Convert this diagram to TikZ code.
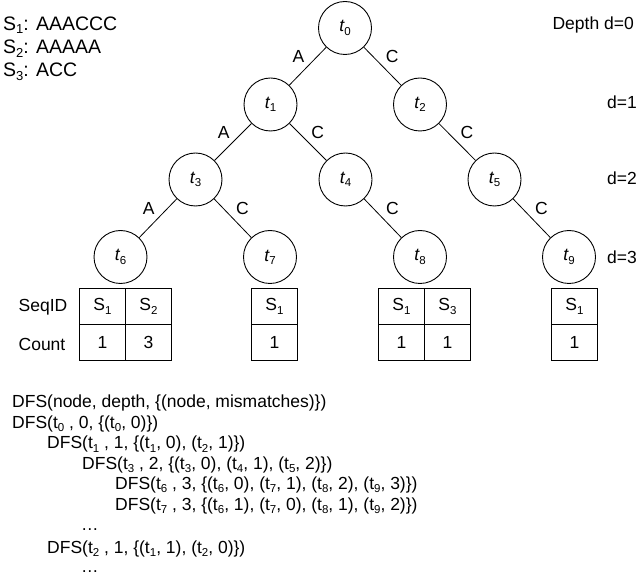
\documentclass[tikz,border=0pt]{standalone}
\usepackage{fontspec}
\setmainfont{Liberation Sans}
\newcommand\lo[1]{\raisebox{-0.35ex}{\fontsize{11.5}{12}\selectfont #1}}
\newcommand\seqsub[1]{\raisebox{-0.35ex}{\fontsize{13}{13}\selectfont #1}}
\newcommand\tl[1]{\textit{t}\kern-0.5pt\lo{#1}}
\begin{document}
\begin{tikzpicture}[x=1pt,y=-1pt,font=\fontsize{17.5}{21}\selectfont,
  tn/.style={circle, draw, line width=0.9pt, minimum size=53pt, inner sep=0pt},
  edg/.style={draw, line width=0.8pt},
  lblL/.style={midway, anchor=south east, inner sep=3pt},
  lblR/.style={midway, anchor=south west, inner sep=3pt},
  cell/.style={draw, line width=0.9pt, minimum width=46pt, minimum height=36pt, inner sep=0pt, anchor=north west},
  txt/.style={inner sep=0pt},
  seqtxt/.style={inner sep=0pt, anchor=west, font=\fontsize{19.5}{23}\selectfont},
  code/.style={inner sep=0pt, anchor=base west}]
\useasboundingbox (0,0) rectangle (643,577);

% sequences
\node[seqtxt] (s1) at (3,25) {S\seqsub{1}: AAACCC};
\node[seqtxt] (s2) at (3,48.5) {S\seqsub{2}: AAAAA};
\node[seqtxt] (s3) at (3,72) {S\seqsub{3}: ACC};

% depth labels
\node[txt, anchor=east] (d0) at (634,25) {Depth d=0};
\node[txt, anchor=east] (d1) at (637,102) {d=1};
\node[txt, anchor=east] (d2) at (637,178) {d=2};
\node[txt, anchor=east] (d3) at (637,257) {d=3};

% tree nodes
\node[tn] (t0) at (345,28) {\tl{0}};
\node[tn] (t1) at (270.5,104.5) {\tl{1}};
\node[tn] (t2) at (420,104.5) {\tl{2}};
\node[tn] (t3) at (195.5,179.5) {\tl{3}};
\node[tn] (t4) at (345.5,179.5) {\tl{4}};
\node[tn] (t5) at (494.5,179.5) {\tl{5}};
\node[tn] (t6) at (120.5,257) {\tl{6}};
\node[tn] (t7) at (270,257) {\tl{7}};
\node[tn] (t8) at (420,257) {\tl{8}};
\node[tn] (t9) at (569,257) {\tl{9}};

% edges
\path[edg] (t0) -- node[lblL] {A} (t1);
\path[edg] (t0) -- node[lblR] {C} (t2);
\path[edg] (t1) -- node[lblL] {A} (t3);
\path[edg] (t1) -- node[lblR] {C} (t4);
\path[edg] (t2) -- node[lblR] {C} (t5);
\path[edg] (t3) -- node[lblL] {A} (t6);
\path[edg] (t3) -- node[lblR] {C} (t7);
\path[edg] (t4) -- node[lblR] {C} (t8);
\path[edg] (t5) -- node[lblR] {C} (t9);

% tables
\node[txt] (seq) at (43,307) {SeqID};
\node[txt] (cnt) at (42,344) {Count};

\node[cell] (a6s1) at (79,288) {S\lo{1}};
\node[cell] (a6s2) at (125,288) {S\lo{2}};
\node[cell] (a6c1) at (79,324) {1};
\node[cell] (a6c2) at (125,324) {3};

\node[cell] (a7s1) at (251,288) {S\lo{1}};
\node[cell] (a7c1) at (251,324) {1};

\node[cell] (a8s1) at (378,288) {S\lo{1}};
\node[cell] (a8s3) at (424,288) {S\lo{3}};
\node[cell] (a8c1) at (378,324) {1};
\node[cell] (a8c2) at (424,324) {1};

\node[cell] (a9s1) at (551,288) {S\lo{1}};
\node[cell] (a9c1) at (551,324) {1};

% DFS trace
\node[code] (l1) at (12,408) {DFS(node, depth, \{(node, mismatches)\})};
\node[code] (l2) at (12,428.5) {DFS(t\lo{0} , 0, \{(t\lo{0}, 0)\})};
\node[code] (l3) at (47,449) {DFS(t\lo{1} , 1, \{(t\lo{1}, 0), (t\lo{2}, 1)\})};
\node[code] (l4) at (82,469) {DFS(t\lo{3} , 2, \{(t\lo{3}, 0), (t\lo{4}, 1), (t\lo{5}, 2)\})};
\node[code] (l5) at (115,489.5) {DFS(t\lo{6} , 3, \{(t\lo{6}, 0), (t\lo{7}, 1), (t\lo{8}, 2), (t\lo{9}, 3)\})};
\node[code] (l6) at (115,510) {DFS(t\lo{7} , 3, \{(t\lo{6}, 1), (t\lo{7}, 0), (t\lo{8}, 1), (t\lo{9}, 2)\})};
\node[code] (l7) at (81,530) {\dots};
\node[code] (l8) at (47,553) {DFS(t\lo{2} , 1, \{(t\lo{1}, 1), (t\lo{2}, 0)\})};
\node[code] (l9) at (81,572) {\dots};
\end{tikzpicture}
\end{document}
